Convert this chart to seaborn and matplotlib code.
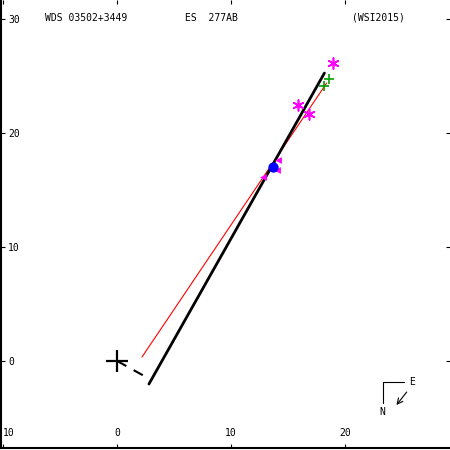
import matplotlib
matplotlib.use("Agg")
import matplotlib.pyplot as plt
import seaborn as sns
import pandas as pd
from matplotlib.ticker import FuncFormatter

# ---- data ----
orbit_x = [2.78, 18.18]
orbit_y = [-2.02, 25.26]
fit_x = [2.17, 18.38]
fit_y = [0.35, 24.39]
node_x = [0.0, 2.52]
node_y = [0.0, -1.40]
ast_x = [15.85, 16.81, 18.92]
ast_y = [22.46, 21.67, 26.14]
plus_x = [18.57, 18.13]
plus_y = [24.74, 24.12]
tri_x = [14.10, 14.00, 12.78]
tri_y = [17.63, 16.75, 16.14]
blue_x = [13.64]
blue_y = [17.02]
xticks = [-10, 0, 10, 20]
yticks = [0, 10, 20, 30]

sns.set_style("ticks")
plt.rcParams['font.family'] = ['DejaVu Sans Mono', 'DejaVu Sans']
plt.rcParams['text.color'] = 'black'
plt.rcParams['xtick.color'] = 'black'
plt.rcParams['ytick.color'] = 'black'
plt.rcParams['axes.edgecolor'] = 'black'

fig = plt.figure(figsize=(4.5, 4.5), dpi=100)
ax = fig.add_axes([1/450, 2/450, 449/450, 448/450])
ax.set_xlim(-10.2, 29.2)
ax.set_ylim(-7.63, 31.67)

sns.lineplot(x=fit_x, y=fit_y, ax=ax, color="red", linewidth=0.8, sort=False, estimator=None, zorder=2)
sns.lineplot(x=orbit_x, y=orbit_y, ax=ax, color="black", linewidth=2.0, sort=False, estimator=None, zorder=2)
ax.plot(node_x, node_y, color="black", linewidth=1.5, linestyle=(0, (5, 4)))
ax.plot([0], [0], marker="+", color="black", markersize=16, markeredgewidth=1.6, linestyle="none")

sns.scatterplot(x=ast_x, y=ast_y, ax=ax, marker=(6, 2, 0), color="magenta", s=60, linewidth=1.2,
                edgecolor="magenta", zorder=3)
sns.scatterplot(x=plus_x, y=plus_y, ax=ax, marker="+", color="#00a000", s=50, linewidth=1.2, zorder=3)
sns.scatterplot(x=tri_x, y=tri_y, ax=ax, marker="<", color="magenta", s=24, linewidth=0, zorder=3)
sns.scatterplot(x=blue_x, y=blue_y, ax=ax, marker="o", color="blue", s=55, linewidth=0, zorder=4)

# header text
ax.text(-6.34, 29.87, "WDS 03502+3449", fontsize=7, va="baseline", ha="left")
ax.text(5.94, 29.87, "ES  277AB", fontsize=7, va="baseline", ha="left")
ax.text(20.59, 29.87, "(WSI2015)", fontsize=7, va="baseline", ha="left")

# compass
ax.plot([25.2, 23.3, 23.3], [-1.84, -1.84, -3.68], color="black", linewidth=0.8)
ax.text(25.6, -1.84, "E", fontsize=7, va="center", ha="left")
ax.text(23.3, -4.45, "N", fontsize=7, va="center", ha="center")
ax.annotate("", xy=(24.5, -3.86), xytext=(25.4, -2.72),
            arrowprops=dict(arrowstyle="->", color="black", lw=0.8, shrinkA=0, shrinkB=0))

# axes styling
for s in ["top", "right"]:
    ax.spines[s].set_visible(False)
ax.spines["left"].set_linewidth(1.5)
ax.spines["bottom"].set_linewidth(1.5)
ax.set_xticks(xticks)
ax.set_yticks(yticks)
fmt = FuncFormatter(lambda v, p: f"{abs(int(round(v)))}")
ax.xaxis.set_major_formatter(fmt)
ax.yaxis.set_major_formatter(fmt)
ax.tick_params(axis="both", direction="in", length=3, width=0.8, labelsize=7,
               top=True, right=True, colors="black")
ax.tick_params(axis="y", pad=-5)
ax.tick_params(axis="x", pad=-7)
for lab in ax.get_yticklabels():
    lab.set_ha("left")
xlabs = ax.get_xticklabels()
for lab in xlabs:
    lab.set_va("bottom")
xlabs[0].set_ha("left")
ax.set_xlabel("")
ax.set_ylabel("")
ax.set_facecolor("white")
fig.savefig("out.png", dpi=100, facecolor="white")
